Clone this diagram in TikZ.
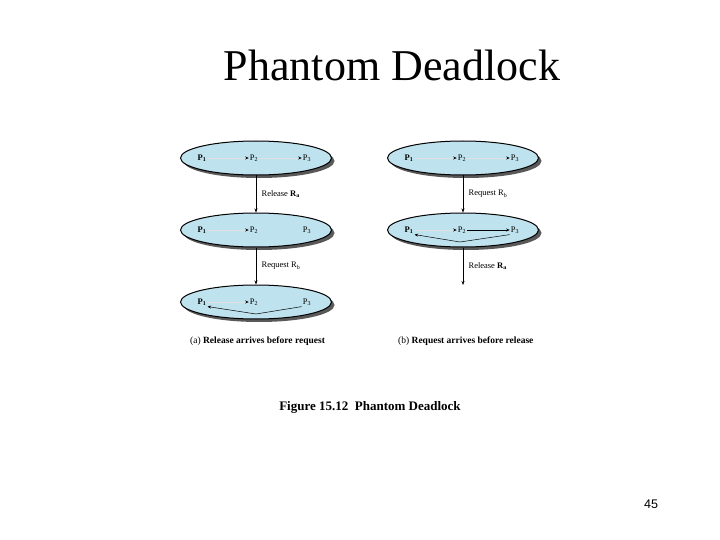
\documentclass[tikz,border=0pt]{standalone}
\usepackage{fontspec}
\setmainfont{Liberation Serif}
\newfontfamily\pagefont{Liberation Sans}
\usetikzlibrary{shapes.geometric,shadows,arrows.meta}
\definecolor{procblue}{RGB}{190,226,238}

\begin{document}
\begin{tikzpicture}[x=1pt, y=-1pt,
    proc/.style={ellipse, draw, line width=1pt, fill=procblue,
        minimum width=151pt, minimum height=34pt,
        drop shadow={shadow xshift=3pt, shadow yshift=-3pt, fill=black!65, opacity=1}},
    pr/.style={font=\fontsize{8.5}{10}\selectfont, inner sep=1pt},
    wait/.style={-{Stealth[length=3.5pt, width=3pt, black]}, line width=0.5pt},
    faint/.style={wait, draw=black!12},
    go/.style={-{Stealth[length=4pt, width=3pt]}, line width=0.5pt},
    lbl/.style={font=\fontsize{8.5}{10}\selectfont, right, xshift=2pt},
    figcap/.style={font=\fontsize{9.5}{11}\selectfont, anchor=base west, inner sep=0pt}]

    \useasboundingbox (0,0) rectangle (720,540);

    \node[anchor=base] (title) at (392,81) {\fontsize{44}{50}\selectfont Phantom Deadlock};

    \node[proc] (a1) at (256,158) {};
    \node[proc] (a2) at (256,230) {};
    \node[proc] (a3) at (256,302) {};
    \node[proc] (b1) at (463,158) {};
    \node[proc] (b2) at (463,230) {};

    \node[pr] (a1p1) at (202,158) {\textbf{P\textsubscript{1}}};
    \node[pr] (a1p2) at (254,158) {P\textsubscript{2}};
    \node[pr] (a1p3) at (307,158) {P\textsubscript{3}};
    \node[pr] (a2p1) at (202,230) {\textbf{P\textsubscript{1}}};
    \node[pr] (a2p2) at (254,230) {P\textsubscript{2}};
    \node[pr] (a2p3) at (307,230) {P\textsubscript{3}};
    \node[pr] (a3p1) at (202,302) {\textbf{P\textsubscript{1}}};
    \node[pr] (a3p2) at (254,302) {P\textsubscript{2}};
    \node[pr] (a3p3) at (307,302) {P\textsubscript{3}};
    \node[pr] (b1p1) at (409,158) {\textbf{P\textsubscript{1}}};
    \node[pr] (b1p2) at (462,158) {P\textsubscript{2}};
    \node[pr] (b1p3) at (515,158) {P\textsubscript{3}};
    \node[pr] (b2p1) at (409,230) {\textbf{P\textsubscript{1}}};
    \node[pr] (b2p2) at (462,230) {P\textsubscript{2}};
    \node[pr] (b2p3) at (515,230) {P\textsubscript{3}};

    \draw [faint] (a1p1) -- (a1p2);
    \draw [faint] (a1p2) -- (a1p3);
    \draw [faint] (a2p1) -- (a2p2);
    \draw [faint] (a3p1) -- (a3p2);
    \draw [faint] (b1p1) -- (b1p2);
    \draw [faint] (b1p2) -- (b1p3);
    \draw [faint] (b2p1) -- (b2p2);
    \draw [wait]  (b2p2) -- (b2p3);

    \coordinate (a3dip) at (256,314);
    \coordinate (b2dip) at (460,242);
    \draw [wait] (a3p3.south west) -- (a3dip) -- (a3p1.south east);
    \draw [wait] (b2p3.south west) -- (b2dip) -- (b2p1.south east);

    \draw [go] (a1) -- (a2) node[lbl, midway] {Release \textbf{R\textsubscript{a}}};
    \draw [go] (a2) -- (a3) node[lbl, midway] {Request R\textsubscript{b}};
    \draw [go] (b1) -- (b2) node[lbl, midway] {Request R\textsubscript{b}};
    \coordinate (bend) at (463,285);
    \draw [go] (b2) -- (bend) node[lbl, midway] {Release \textbf{R\textsubscript{a}}};

    \node[figcap] (capa) at (190,343) {(a) \textbf{Release arrives before request}};
    \node[figcap] (capb) at (398,343) {(b) \textbf{Request arrives before release}};

    \node (fig) at (370,407) {\fontsize{13}{15}\selectfont\bfseries Figure 15.12\ \ Phantom Deadlock};
    \node (page) at (651,504) {\pagefont\fontsize{12.5}{14}\selectfont 45};
\end{tikzpicture}
\end{document}
